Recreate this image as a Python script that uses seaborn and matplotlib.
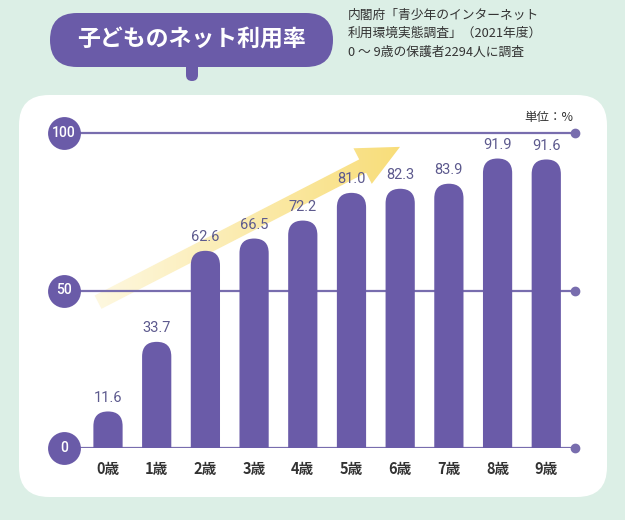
import numpy as np
import pandas as pd
import seaborn as sns
import matplotlib.pyplot as plt
from matplotlib.patches import FancyBboxPatch, FancyArrowPatch
from matplotlib.colors import LinearSegmentedColormap

# data
ages = ["0歳", "1歳", "2歳", "3歳", "4歳", "5歳", "6歳", "7歳", "8歳", "9歳"]
rates = [11.6, 33.7, 62.6, 66.5, 72.2, 81.0, 82.3, 83.9, 91.9, 91.6]
grid_values = [0, 50, 100]

title = "子どものネット利用率"
source_lines = ["内閣府「青少年のインターネット", "利用環境実態調査」（2021年度）", "0 ～ 9歳の保護者2294人に調査"]
unit_label = "単位：%"

MINT = "#dcefe6"
PURPLE = "#6a5ba8"
LINE = "#786dae"
VALUE_COLOR = "#5d5a8e"

sns.set_style("white")
plt.rcParams["font.family"] = ["Noto Sans CJK JP", "DejaVu Sans"]

fig = plt.figure(figsize=(6.25, 5.2), dpi=100)
fig.patch.set_facecolor(MINT)
inch = fig.dpi_scale_trans

# white rounded panel
fig.add_artist(FancyBboxPatch((0.19, 0.23), 5.88, 4.02, boxstyle="round,pad=0,rounding_size=0.3",
                              transform=inch, fc="white", ec="none", zorder=-2))

# title pill with its little tail
fig.add_artist(FancyBboxPatch((0.50, 4.53), 2.83, 0.54, boxstyle="round,pad=0,rounding_size=0.27",
                              transform=inch, fc=PURPLE, ec="none", zorder=-1))
fig.add_artist(FancyBboxPatch((1.86, 4.39), 0.12, 0.25, boxstyle="round,pad=0,rounding_size=0.06",
                              transform=inch, fc=PURPLE, ec="none", zorder=-1))
fig.text(1.92, 4.80, title, transform=inch, ha="center", va="center",
         color="white", fontsize=16.5, fontweight="bold")

for i, line in enumerate(source_lines):
    fig.text(3.48, 5.05 - i * 0.185, line, transform=inch, ha="left", va="center",
             color="#333333", fontsize=9.2)

fig.text(5.73, 4.03, unit_label, transform=inch, ha="right", va="center",
         color="#333333", fontsize=9)

# plotting axes
ax = fig.add_axes([80 / 625, 72 / 520, 495 / 625, 105 * 3.15 / 520])
ax.patch.set_alpha(0)
xlim = (-0.575, 9.59)
ylim = (0, 105)

df = pd.DataFrame({"age": ages, "rate": rates})
sns.barplot(data=df, x="age", y="rate", color=PURPLE, width=0.6, saturation=1, ax=ax, zorder=3)

# px per unit -> aspect for rounded bar tops
px_x = 495 / (xlim[1] - xlim[0])
px_y = 105 * 3.15 / (ylim[1] - ylim[0])
aspect = px_x / px_y

for bar in list(ax.patches):
    x0, w, h = bar.get_x(), bar.get_width(), bar.get_height()
    bar.set_visible(False)
    ax.add_patch(FancyBboxPatch((x0, -10), w, h + 10,
                                boxstyle=f"round,pad=0,rounding_size={w / 2}",
                                mutation_aspect=aspect, fc=PURPLE, ec="none", zorder=3))

ax.bar_label(ax.containers[0], fmt="%.1f", padding=5, color=VALUE_COLOR,
             fontsize=10.5, family=["Roboto", "DejaVu Sans"], zorder=4)

# grid lines with number badges and end dots
for v in grid_values:
    ax.axhline(v, color=LINE, lw=1.6, zorder=2)
    ax.plot([xlim[1]], [v], "o", ms=6, color=LINE, clip_on=False, zorder=2)
    ax.scatter([-0.903], [v], s=560, color=PURPLE, clip_on=False, zorder=5, linewidths=0)
    ax.text(-0.903, v, str(v), ha="center", va="center", color="white",
            fontsize=10, fontweight="medium", family=["Roboto", "DejaVu Sans"], zorder=6, clip_on=False)

# yellow gradient arrow behind the bars
arrow = FancyArrowPatch((-0.205, 46.3), (5.996, 95.6),
                        arrowstyle="simple,head_length=42,head_width=40,tail_width=15",
                        mutation_scale=1, shrinkA=0, shrinkB=0, transform=ax.transData)
grad = np.linspace(0, 1, 256).reshape(1, -1)
cmap = LinearSegmentedColormap.from_list("arrow", ["#fef9e4", "#f8dc74"])
im = ax.imshow(grad, extent=[-0.5, 6.3, 38, 102], cmap=cmap, aspect="auto", zorder=1)
im.set_clip_path(arrow)

ax.set_xlim(*xlim)
ax.set_ylim(*ylim)
ax.set_yticks([])
ax.set_xlabel("")
ax.set_ylabel("")
ax.tick_params(axis="x", length=0, pad=9.5, labelsize=10.5, labelcolor="#333333")
for lab in ax.get_xticklabels():
    lab.set_fontweight("bold")
sns.despine(ax=ax, left=True, bottom=True)

fig.savefig("out.png", dpi=100, facecolor=fig.get_facecolor())
